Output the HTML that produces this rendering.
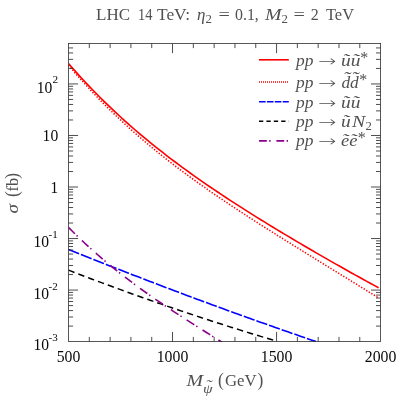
<!DOCTYPE html>
<html><head><meta charset="utf-8"><title>LHC 14 TeV cross sections</title>
<style>
html,body{margin:0;padding:0;background:#fff;}
svg{display:block;will-change:transform;}
text{font-family:"Liberation Serif","DejaVu Serif",serif;fill:#505050;}
.it{font-style:italic;}
.tk text{fill:#0a0a0a;}
.ar{font-family:"DejaVu Sans","Liberation Serif",sans-serif;font-weight:200;font-size:15px;}
</style></head><body>
<svg width="407" height="407" viewBox="0 0 407 407">
<rect x="0" y="0" width="407" height="407" fill="#fff"/>
<defs><clipPath id="cp"><rect x="68.5" y="43.5" width="312.1" height="298.4"/></clipPath></defs>
<g font-size="17">
<text x="96.0" y="19.9" textLength="34.0" lengthAdjust="spacingAndGlyphs">LHC</text>
<text x="138.0" y="19.9" textLength="14.4" lengthAdjust="spacingAndGlyphs">14</text>
<text x="157.0" y="19.9" textLength="33.2" lengthAdjust="spacingAndGlyphs">TeV:</text>
<text x="197.0" y="19.9" textLength="8.4" lengthAdjust="spacingAndGlyphs" class="it">η</text>
<text x="205.6" y="22.5" textLength="6.4" lengthAdjust="spacingAndGlyphs" font-size="12">2</text>
<text x="218.6" y="19.9" textLength="11.4" lengthAdjust="spacingAndGlyphs">=</text>
<text x="235.0" y="19.9" textLength="23.8" lengthAdjust="spacingAndGlyphs">0.1,</text>
<text x="265.0" y="19.9" textLength="16.6" lengthAdjust="spacingAndGlyphs" class="it">M</text>
<text x="281.4" y="22.5" textLength="6.4" lengthAdjust="spacingAndGlyphs" font-size="12">2</text>
<text x="293.6" y="19.9" textLength="11.4" lengthAdjust="spacingAndGlyphs">=</text>
<text x="310.8" y="19.9" textLength="8.0" lengthAdjust="spacingAndGlyphs">2</text>
<text x="326.0" y="19.9" textLength="28.0" lengthAdjust="spacingAndGlyphs">TeV</text>
</g>
<g clip-path="url(#cp)" fill="none" stroke-linejoin="round">
<path d="M68.50,63.45 L72.43,67.95 L76.35,72.36 L80.28,76.69 L84.20,80.95 L88.13,85.13 L92.05,89.23 L95.98,93.26 L99.90,97.22 L103.83,101.10 L107.75,104.93 L111.68,108.68 L115.60,112.38 L119.53,116.01 L123.45,119.59 L127.38,123.11 L131.31,126.57 L135.23,129.98 L139.16,133.34 L143.08,136.64 L147.01,139.90 L150.93,143.12 L154.86,146.29 L158.78,149.41 L162.71,152.49 L166.63,155.53 L170.56,158.54 L174.48,161.50 L178.41,164.43 L182.33,167.33 L186.26,170.19 L190.18,173.02 L194.11,175.82 L198.04,178.59 L201.96,181.33 L205.89,184.04 L209.81,186.73 L213.74,189.39 L217.66,192.03 L221.59,194.65 L225.51,197.24 L229.44,199.81 L233.36,202.37 L237.29,204.90 L241.21,207.42 L245.14,209.91 L249.06,212.39 L252.99,214.86 L256.92,217.31 L260.84,219.74 L264.77,222.16 L268.69,224.57 L272.62,226.97 L276.54,229.35 L280.47,231.72 L284.39,234.08 L288.32,236.42 L292.24,238.76 L296.17,241.09 L300.09,243.40 L304.02,245.71 L307.94,248.01 L311.87,250.29 L315.79,252.57 L319.72,254.84 L323.65,257.10 L327.57,259.35 L331.50,261.60 L335.42,263.83 L339.35,266.05 L343.27,268.27 L347.20,270.48 L351.12,272.68 L355.05,274.86 L358.97,277.04 L362.90,279.21 L366.82,281.37 L370.75,283.52 L374.67,285.65 L378.60,287.78" stroke="#ff0000" stroke-width="1.6"/>
<path d="M68.50,65.25 L72.43,69.87 L76.35,74.40 L80.28,78.84 L84.20,83.20 L88.13,87.48 L92.05,91.68 L95.98,95.80 L99.90,99.86 L103.83,103.83 L107.75,107.74 L111.68,111.58 L115.60,115.36 L119.53,119.07 L123.45,122.72 L127.38,126.31 L131.31,129.84 L135.23,133.32 L139.16,136.74 L143.08,140.11 L147.01,143.43 L150.93,146.70 L154.86,149.93 L158.78,153.11 L162.71,156.24 L166.63,159.34 L170.56,162.39 L174.48,165.41 L178.41,168.39 L182.33,171.33 L186.26,174.24 L190.18,177.12 L194.11,179.96 L198.04,182.78 L201.96,185.57 L205.89,188.33 L209.81,191.07 L213.74,193.78 L217.66,196.47 L221.59,199.14 L225.51,201.78 L229.44,204.41 L233.36,207.02 L237.29,209.61 L241.21,212.18 L245.14,214.74 L249.06,217.29 L252.99,219.82 L256.92,222.34 L260.84,224.85 L264.77,227.35 L268.69,229.84 L272.62,232.32 L276.54,234.79 L280.47,237.25 L284.39,239.71 L288.32,242.16 L292.24,244.60 L296.17,247.04 L300.09,249.48 L304.02,251.91 L307.94,254.34 L311.87,256.77 L315.79,259.19 L319.72,261.62 L323.65,264.04 L327.57,266.46 L331.50,268.88 L335.42,271.30 L339.35,273.72 L343.27,276.14 L347.20,278.55 L351.12,280.97 L355.05,283.39 L358.97,285.82 L362.90,288.24 L366.82,290.66 L370.75,293.08 L374.67,295.51 L378.60,297.93" stroke="#ff0000" stroke-width="1.5" stroke-dasharray="1.4 1.6"/>
<path d="M68.50,249.44 L71.63,250.70 L74.77,251.96 L77.90,253.22 L81.03,254.47 L84.16,255.72 L87.30,256.97 L90.43,258.22 L93.56,259.46 L96.70,260.70 L99.83,261.94 L102.96,263.17 L106.09,264.41 L109.23,265.64 L112.36,266.87 L115.49,268.09 L118.63,269.32 L121.76,270.54 L124.89,271.76 L128.03,272.98 L131.16,274.19 L134.29,275.40 L137.42,276.61 L140.56,277.82 L143.69,279.02 L146.82,280.22 L149.96,281.42 L153.09,282.62 L156.22,283.82 L159.35,285.01 L162.49,286.20 L165.62,287.39 L168.75,288.57 L171.89,289.75 L175.02,290.94 L178.15,292.11 L181.28,293.29 L184.42,294.46 L187.55,295.63 L190.68,296.80 L193.82,297.97 L196.95,299.13 L200.08,300.29 L203.22,301.45 L206.35,302.61 L209.48,303.76 L212.61,304.91 L215.75,306.06 L218.88,307.21 L222.01,308.35 L225.15,309.49 L228.28,310.63 L231.41,311.77 L234.54,312.90 L237.68,314.03 L240.81,315.16 L243.94,316.29 L247.08,317.42 L250.21,318.54 L253.34,319.66 L256.47,320.78 L259.61,321.89 L262.74,323.00 L265.87,324.11 L269.01,325.22 L272.14,326.33 L275.27,327.43 L278.41,328.53 L281.54,329.63 L284.67,330.72 L287.80,331.82 L290.94,332.91 L294.07,334.00 L297.20,335.08 L300.34,336.17 L303.47,337.25 L306.60,338.33 L309.73,339.40 L312.87,340.48 L316.00,341.55" stroke="#0000ff" stroke-width="1.6" stroke-dasharray="11.4 2"/>
<path d="M68.50,270.15 L71.13,271.17 L73.77,272.18 L76.40,273.19 L79.03,274.19 L81.66,275.20 L84.30,276.20 L86.93,277.19 L89.56,278.19 L92.20,279.18 L94.83,280.17 L97.46,281.15 L100.09,282.13 L102.73,283.11 L105.36,284.09 L107.99,285.06 L110.63,286.03 L113.26,287.00 L115.89,287.96 L118.53,288.92 L121.16,289.88 L123.79,290.83 L126.42,291.79 L129.06,292.73 L131.69,293.68 L134.32,294.62 L136.96,295.56 L139.59,296.50 L142.22,297.43 L144.85,298.37 L147.49,299.29 L150.12,300.22 L152.75,301.14 L155.39,302.06 L158.02,302.98 L160.65,303.89 L163.28,304.80 L165.92,305.71 L168.55,306.61 L171.18,307.51 L173.82,308.41 L176.45,309.31 L179.08,310.20 L181.72,311.09 L184.35,311.97 L186.98,312.86 L189.61,313.74 L192.25,314.62 L194.88,315.49 L197.51,316.36 L200.15,317.23 L202.78,318.10 L205.41,318.96 L208.04,319.82 L210.68,320.67 L213.31,321.53 L215.94,322.38 L218.58,323.23 L221.21,324.07 L223.84,324.91 L226.47,325.75 L229.11,326.59 L231.74,327.42 L234.37,328.25 L237.01,329.08 L239.64,329.90 L242.27,330.72 L244.91,331.54 L247.54,332.35 L250.17,333.17 L252.80,333.97 L255.44,334.78 L258.07,335.58 L260.70,336.38 L263.34,337.18 L265.97,337.97 L268.60,338.77 L271.23,339.55 L273.87,340.34 L276.50,341.12" stroke="#000000" stroke-width="1.5" stroke-dasharray="6.4 4.1"/>
<path d="M68.50,227.40 L70.44,229.36 L72.39,231.29 L74.33,233.20 L76.27,235.10 L78.22,236.97 L80.16,238.83 L82.10,240.67 L84.04,242.49 L85.99,244.29 L87.93,246.07 L89.87,247.84 L91.82,249.59 L93.76,251.32 L95.70,253.04 L97.65,254.74 L99.59,256.42 L101.53,258.09 L103.47,259.75 L105.42,261.39 L107.36,263.01 L109.30,264.62 L111.25,266.21 L113.19,267.79 L115.13,269.36 L117.08,270.91 L119.02,272.45 L120.96,273.98 L122.91,275.49 L124.85,276.99 L126.79,278.48 L128.73,279.96 L130.68,281.43 L132.62,282.88 L134.56,284.32 L136.51,285.76 L138.45,287.18 L140.39,288.59 L142.34,289.99 L144.28,291.39 L146.22,292.77 L148.16,294.14 L150.11,295.51 L152.05,296.86 L153.99,298.21 L155.94,299.55 L157.88,300.88 L159.82,302.21 L161.77,303.53 L163.71,304.84 L165.65,306.14 L167.59,307.44 L169.54,308.73 L171.48,310.02 L173.42,311.30 L175.37,312.57 L177.31,313.84 L179.25,315.10 L181.20,316.37 L183.14,317.62 L185.08,318.87 L187.03,320.12 L188.97,321.37 L190.91,322.61 L192.85,323.85 L194.80,325.09 L196.74,326.32 L198.68,327.55 L200.63,328.78 L202.57,330.01 L204.51,331.24 L206.46,332.47 L208.40,333.69 L210.34,334.92 L212.28,336.14 L214.23,337.37 L216.17,338.60 L218.11,339.82 L220.06,341.05 L222.00,342.28" stroke="#8b008b" stroke-width="1.6" stroke-dasharray="9 2.4 1.4 6"/>
</g>
<path d="M89.31,341.5 v-4.6 M89.31,43.5 v4.6 M110.11,341.5 v-4.6 M110.11,43.5 v4.6 M130.92,341.5 v-4.6 M130.92,43.5 v4.6 M151.73,341.5 v-4.6 M151.73,43.5 v4.6 M172.53,341.5 v-9.6 M172.53,43.5 v9.6 M193.34,341.5 v-4.6 M193.34,43.5 v4.6 M214.15,341.5 v-4.6 M214.15,43.5 v4.6 M234.95,341.5 v-4.6 M234.95,43.5 v4.6 M255.76,341.5 v-4.6 M255.76,43.5 v4.6 M276.57,341.5 v-9.6 M276.57,43.5 v9.6 M297.37,341.5 v-4.6 M297.37,43.5 v4.6 M318.18,341.5 v-4.6 M318.18,43.5 v4.6 M338.99,341.5 v-4.6 M338.99,43.5 v4.6 M359.79,341.5 v-4.6 M359.79,43.5 v4.6 M68.5,326.09 h4.6 M380.6,326.09 h-4.6 M68.5,317.01 h4.6 M380.6,317.01 h-4.6 M68.5,310.58 h4.6 M380.6,310.58 h-4.6 M68.5,305.58 h4.6 M380.6,305.58 h-4.6 M68.5,301.50 h4.6 M380.6,301.50 h-4.6 M68.5,298.05 h4.6 M380.6,298.05 h-4.6 M68.5,295.06 h4.6 M380.6,295.06 h-4.6 M68.5,292.43 h4.6 M380.6,292.43 h-4.6 M68.5,290.07 h9.6 M380.6,290.07 h-9.6 M68.5,274.56 h4.6 M380.6,274.56 h-4.6 M68.5,265.48 h4.6 M380.6,265.48 h-4.6 M68.5,259.05 h4.6 M380.6,259.05 h-4.6 M68.5,254.05 h4.6 M380.6,254.05 h-4.6 M68.5,249.97 h4.6 M380.6,249.97 h-4.6 M68.5,246.52 h4.6 M380.6,246.52 h-4.6 M68.5,243.53 h4.6 M380.6,243.53 h-4.6 M68.5,240.90 h4.6 M380.6,240.90 h-4.6 M68.5,238.54 h9.6 M380.6,238.54 h-9.6 M68.5,223.03 h4.6 M380.6,223.03 h-4.6 M68.5,213.95 h4.6 M380.6,213.95 h-4.6 M68.5,207.52 h4.6 M380.6,207.52 h-4.6 M68.5,202.52 h4.6 M380.6,202.52 h-4.6 M68.5,198.44 h4.6 M380.6,198.44 h-4.6 M68.5,194.99 h4.6 M380.6,194.99 h-4.6 M68.5,192.00 h4.6 M380.6,192.00 h-4.6 M68.5,189.37 h4.6 M380.6,189.37 h-4.6 M68.5,187.01 h9.6 M380.6,187.01 h-9.6 M68.5,171.50 h4.6 M380.6,171.50 h-4.6 M68.5,162.42 h4.6 M380.6,162.42 h-4.6 M68.5,155.99 h4.6 M380.6,155.99 h-4.6 M68.5,150.99 h4.6 M380.6,150.99 h-4.6 M68.5,146.91 h4.6 M380.6,146.91 h-4.6 M68.5,143.46 h4.6 M380.6,143.46 h-4.6 M68.5,140.47 h4.6 M380.6,140.47 h-4.6 M68.5,137.84 h4.6 M380.6,137.84 h-4.6 M68.5,135.48 h9.6 M380.6,135.48 h-9.6 M68.5,119.97 h4.6 M380.6,119.97 h-4.6 M68.5,110.89 h4.6 M380.6,110.89 h-4.6 M68.5,104.46 h4.6 M380.6,104.46 h-4.6 M68.5,99.46 h4.6 M380.6,99.46 h-4.6 M68.5,95.38 h4.6 M380.6,95.38 h-4.6 M68.5,91.93 h4.6 M380.6,91.93 h-4.6 M68.5,88.94 h4.6 M380.6,88.94 h-4.6 M68.5,86.31 h4.6 M380.6,86.31 h-4.6 M68.5,83.95 h9.6 M380.6,83.95 h-9.6 M68.5,68.44 h4.6 M380.6,68.44 h-4.6 M68.5,59.36 h4.6 M380.6,59.36 h-4.6 M68.5,52.93 h4.6 M380.6,52.93 h-4.6 M68.5,47.93 h4.6 M380.6,47.93 h-4.6" stroke="#2e2e2e" stroke-width="0.85" fill="none"/>
<rect x="68.5" y="43.5" width="312.1" height="298.0" fill="none" stroke="#2e2e2e" stroke-width="0.8"/>
<g fill="none">
<path d="M259,59.8 H288.8" stroke="#ff0000" stroke-width="1.6"/>
<path d="M259,81.9 H288.8" stroke="#ff0000" stroke-width="1.5" stroke-dasharray="1 1"/>
<path d="M259,101.8 H288.8" stroke="#0000ff" stroke-width="1.6" stroke-dasharray="6.6 1.3"/>
<path d="M259,121.3 H288.8" stroke="#000000" stroke-width="1.5" stroke-dasharray="4.3 3.1"/>
<path d="M259,140.9 H288.8" stroke="#8b008b" stroke-width="1.6" stroke-dasharray="7.8 2.4 1.4 5.8"/>
</g>
<g font-size="17">
<text x="296.0" y="65.5" textLength="17.4" lengthAdjust="spacingAndGlyphs" class="it">pp</text>
<text class="ar" transform="translate(318.0,65.5) scale(1.45,1)">→</text>
<text x="296.0" y="88.0" textLength="17.4" lengthAdjust="spacingAndGlyphs" class="it">pp</text>
<text class="ar" transform="translate(318.0,88.0) scale(1.45,1)">→</text>
<text x="296.0" y="107.5" textLength="17.4" lengthAdjust="spacingAndGlyphs" class="it">pp</text>
<text class="ar" transform="translate(318.0,107.5) scale(1.45,1)">→</text>
<text x="296.0" y="126.9" textLength="17.4" lengthAdjust="spacingAndGlyphs" class="it">pp</text>
<text class="ar" transform="translate(318.0,126.9) scale(1.45,1)">→</text>
<text x="296.0" y="146.2" textLength="17.4" lengthAdjust="spacingAndGlyphs" class="it">pp</text>
<text class="ar" transform="translate(318.0,146.2) scale(1.45,1)">→</text>
<text x="341.0" y="65.5" textLength="19.4" lengthAdjust="spacingAndGlyphs" class="it">ũũ</text>
<text x="360.2" y="62.7" font-size="16">*</text>
<text x="341.4" y="88.0" textLength="17.4" lengthAdjust="spacingAndGlyphs" class="it">dd</text>
<text x="343.2" y="83.4" textLength="7.0" lengthAdjust="spacingAndGlyphs" class="it">˜</text>
<text x="351.6" y="83.4" textLength="7.0" lengthAdjust="spacingAndGlyphs" class="it">˜</text>
<text x="359.2" y="85.2" font-size="16">*</text>
<text x="341.0" y="107.5" textLength="19.4" lengthAdjust="spacingAndGlyphs" class="it">ũũ</text>
<text x="341.0" y="126.9" textLength="9.7" lengthAdjust="spacingAndGlyphs" class="it">ũ</text>
<text x="352.0" y="126.9" textLength="13.2" lengthAdjust="spacingAndGlyphs" class="it">N</text>
<text x="365.4" y="129.5" textLength="6.4" lengthAdjust="spacingAndGlyphs" font-size="12">2</text>
<text x="341.0" y="146.2" textLength="16.4" lengthAdjust="spacingAndGlyphs" class="it">ẽẽ</text>
<text x="357.8" y="143.39999999999998" font-size="16">*</text>
</g>
<g class="tk">
<text x="36.8" y="92.5" textLength="15.6" lengthAdjust="spacingAndGlyphs" font-size="16">10</text>
<text x="52.6" y="83.2" textLength="5.6" lengthAdjust="spacingAndGlyphs" font-size="11">2</text>
<text x="42.6" y="141.1" textLength="15.6" lengthAdjust="spacingAndGlyphs" font-size="16">10</text>
<text x="50.4" y="192.6" textLength="7.6" lengthAdjust="spacingAndGlyphs" font-size="16">1</text>
<text x="33.4" y="247.0" textLength="15.6" lengthAdjust="spacingAndGlyphs" font-size="16">10</text>
<text x="48.6" y="238.3" textLength="9.2" lengthAdjust="spacingAndGlyphs" font-size="11">-1</text>
<text x="33.4" y="298.6" textLength="15.6" lengthAdjust="spacingAndGlyphs" font-size="16">10</text>
<text x="48.6" y="289.9" textLength="9.2" lengthAdjust="spacingAndGlyphs" font-size="11">-2</text>
<text x="33.4" y="350.1" textLength="15.6" lengthAdjust="spacingAndGlyphs" font-size="16">10</text>
<text x="48.6" y="341.4" textLength="9.2" lengthAdjust="spacingAndGlyphs" font-size="11">-3</text>
</g>
<g class="tk" font-size="16">
<text x="56.7" y="362.0" textLength="23.6" lengthAdjust="spacingAndGlyphs">500</text>
<text x="156.7" y="362.0" textLength="31.6" lengthAdjust="spacingAndGlyphs">1000</text>
<text x="260.8" y="362.0" textLength="31.6" lengthAdjust="spacingAndGlyphs">1500</text>
<text x="364.8" y="362.0" textLength="31.6" lengthAdjust="spacingAndGlyphs">2000</text>
</g>
<g font-size="17">
<text x="186.4" y="386.0" textLength="16.6" lengthAdjust="spacingAndGlyphs" class="it">M</text>
<text x="203.0" y="392.6" textLength="9.6" lengthAdjust="spacingAndGlyphs" class="it" font-size="12">ψ</text>
<text x="205.6" y="388.6" textLength="6.2" lengthAdjust="spacingAndGlyphs" class="it" font-size="12">˜</text>
<text x="218.0" y="386.0" textLength="5.8" lengthAdjust="spacingAndGlyphs" font-size="19">(</text>
<text x="225.0" y="386.0" textLength="31.6" lengthAdjust="spacingAndGlyphs">GeV</text>
<text x="257.6" y="386.0" textLength="5.8" lengthAdjust="spacingAndGlyphs" font-size="19">)</text>
<g transform="translate(18.4,213.4) rotate(-90)">
<text x="0" y="0" textLength="9.4" lengthAdjust="spacingAndGlyphs" class="it">σ</text>
<text x="16.4" y="0" textLength="5.8" lengthAdjust="spacingAndGlyphs" font-size="19">(</text>
<text x="22.0" y="0" textLength="13.6" lengthAdjust="spacingAndGlyphs" font-size="17.5">fb</text>
<text x="34.6" y="0" textLength="5.8" lengthAdjust="spacingAndGlyphs" font-size="19">)</text>
</g>
</g>
</svg>
</body></html>
